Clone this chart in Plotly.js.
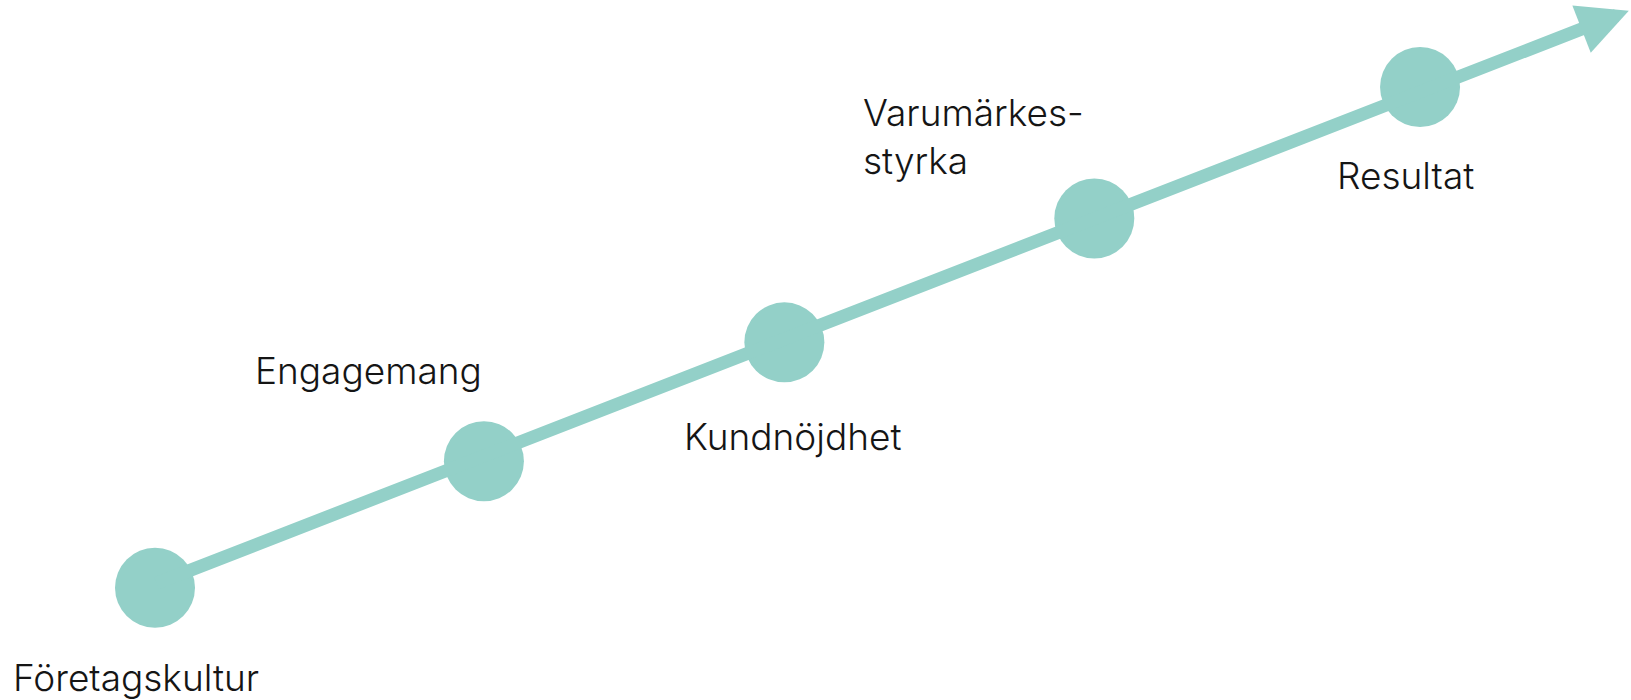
<!DOCTYPE html>
<html>
<head>
<meta charset="utf-8">
<script src="https://cdn.plot.ly/plotly-3.0.1.min.js"></script>
<style>
  html, body { margin: 0; padding: 0; background: #ffffff; }
  #chart { width: 1631px; height: 700px; }
</style>
</head>
<body>
<div id="chart"></div>
<script>
// ---- data ----
const stages = ["Företagskultur", "Engagemang", "Kundnöjdhet", "Varumärkes-<br>styrka", "Resultat"];
const stageX = [1, 2.04, 2.99, 3.97, 5];
const stageY = [1, 2.01, 2.96, 3.95, 5];
const arrowX = [1, 5.66];
const arrowY = [1.03, 5.61];

// ---- style ----
const teal = "#93D0C8";
const textColor = "#151515";
const fontFamily = "Inter, 'Noto Sans', Roboto, sans-serif";
const fontSize = 37;
const labelShiftX = [-144, -231, -102, -233, -85];
const labelShiftY = [-90, 91, -94, 82, -88];

const trace = {
  x: stageX,
  y: stageY,
  type: "scatter",
  mode: "markers",
  marker: { size: 80, color: teal, line: { width: 0 } },
  hoverinfo: "skip",
  showlegend: false
};

const annotations = [{
  x: arrowX[1], y: arrowY[1], xref: "x", yref: "y",
  ax: arrowX[0], ay: arrowY[0], axref: "x", ayref: "y",
  text: "", showarrow: true,
  arrowhead: 2, arrowsize: 0.78, arrowwidth: 13, arrowcolor: teal, standoff: 0
}];

stages.forEach((s, i) => {
  annotations.push({
    x: stageX[i], y: stageY[i], xref: "x", yref: "y",
    text: s, showarrow: false,
    xanchor: "left", yanchor: "middle", align: "left",
    xshift: labelShiftX[i], yshift: labelShiftY[i],
    font: { family: fontFamily, size: fontSize, color: textColor, weight: 300 }
  });
});

const layout = {
  width: 1631, height: 700,
  margin: { l: 0, r: 0, t: 0, b: 0, pad: 0 },
  paper_bgcolor: "#ffffff", plot_bgcolor: "#ffffff",
  xaxis: { range: [0.5099, 5.667], visible: false, fixedrange: true },
  yaxis: { range: [0.1029, 5.695], visible: false, fixedrange: true },
  showlegend: false,
  annotations: annotations
};

Plotly.newPlot("chart", [trace], layout, { displayModeBar: false, staticPlot: true });
</script>
</body>
</html>
